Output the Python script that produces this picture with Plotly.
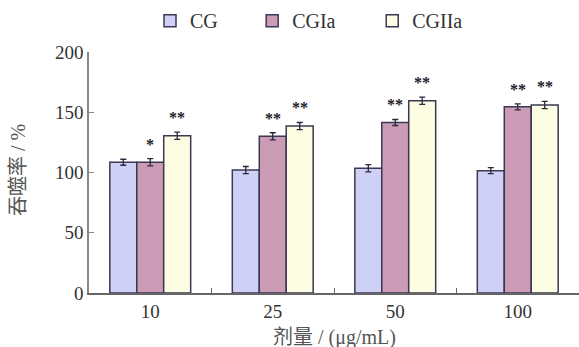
import plotly.graph_objects as go

# Dose groups (μg/mL) and phagocytosis rates (%)
doses = ["10", "25", "50", "100"]
series_names = ["CG", "CGIa", "CGIIa"]
cg_values = [108.5, 102.0, 103.5, 101.5]
cgia_values = [108.5, 130.0, 141.5, 154.5]
cgiia_values = [130.5, 138.5, 159.5, 156.0]
cg_errors = [2.5, 3.0, 3.0, 2.5]
cgia_errors = [3.0, 3.0, 2.5, 2.5]
cgiia_errors = [3.0, 3.0, 3.0, 3.0]
cg_marks = ["", "", "", ""]
cgia_marks = ["*", "**", "**", "**"]
cgiia_marks = ["**", "**", "**", "**"]
y_tick_values = [0, 50, 100, 150, 200]

colors = ["#cfd0f6", "#cc9bb6", "#fdfde4"]
outline = "#3b3852"
serif = "Liberation Serif, Times New Roman, Noto Sans CJK SC, serif"

values = [cg_values, cgia_values, cgiia_values]
errors = [cg_errors, cgia_errors, cgiia_errors]
marks = [cg_marks, cgia_marks, cgiia_marks]
legend_ids = ["legend", "legend2", "legend3"]
legend_x = [0.1245, 0.333, 0.578]

fig = go.Figure()
for name, vals, errs, col, lid in zip(series_names, values, errors, colors, legend_ids):
    fig.add_trace(go.Bar(
        x=doses, y=vals, name=name, legend=lid,
        marker=dict(color=col, line=dict(color=outline, width=1.5)),
        error_y=dict(type="data", array=errs, visible=True,
                     color="#2a2840", thickness=1.3, width=3),
    ))

# Significance marks above each bar (x given as category index)
bar_px = 27
annotations = []
for k, (vals, errs, mk) in enumerate(zip(values, errors, marks)):
    for i in range(len(doses)):
        if mk[i]:
            annotations.append(dict(
                x=i, y=vals[i] + errs[i], xref="x", yref="y",
                text="<b>" + mk[i] + "</b>", showarrow=False, yanchor="bottom",
                xshift=(k - 1) * bar_px, yshift=4,
                font=dict(family=serif, size=16, color="#1e1e28"),
            ))

annotations.append(dict(
    x=-0.145, y=0.51, xref="paper", yref="paper", text="吞噬率 / %",
    textangle=-90, showarrow=False, xanchor="center", yanchor="middle",
    font=dict(family=serif, size=20, color="#555555"),
))
annotations.append(dict(
    x=0.5, y=-0.185, xref="paper", yref="paper", text="剂量 / (μg/mL)",
    showarrow=False, xanchor="center", yanchor="middle",
    font=dict(family=serif, size=20, color="#555555"),
))

legend_style = dict(orientation="h", y=1.13, xanchor="left", yanchor="middle",
                    font=dict(family=serif, size=20, color="#333333"),
                    bgcolor="rgba(0,0,0,0)")

fig.update_layout(
    width=579, height=347,
    margin=dict(l=89, r=0, t=52, b=54),
    paper_bgcolor="white", plot_bgcolor="white",
    barmode="group", bargap=0.34, bargroupgap=0,
    showlegend=True,
    legend=dict(x=legend_x[0], **legend_style),
    legend2=dict(x=legend_x[1], **legend_style),
    legend3=dict(x=legend_x[2], **legend_style),
    annotations=annotations,
    xaxis=dict(
        type="category", range=[-0.5, 3.5], showline=True,
        linecolor="#666666", linewidth=1.5,
        ticks="inside", tickson="boundaries", ticklen=5, tickcolor="#666666",
        tickfont=dict(family=serif, size=19, color="#333333"),
        showgrid=False, zeroline=False,
    ),
    yaxis=dict(
        range=[0, 200], tickvals=y_tick_values, showline=True,
        linecolor="#888888", linewidth=1.5,
        ticks="inside", ticklen=5, tickcolor="#888888",
        tickfont=dict(family=serif, size=19, color="#333333"),
        showgrid=False, zeroline=False,
    ),
)

fig.write_html("out.html")
